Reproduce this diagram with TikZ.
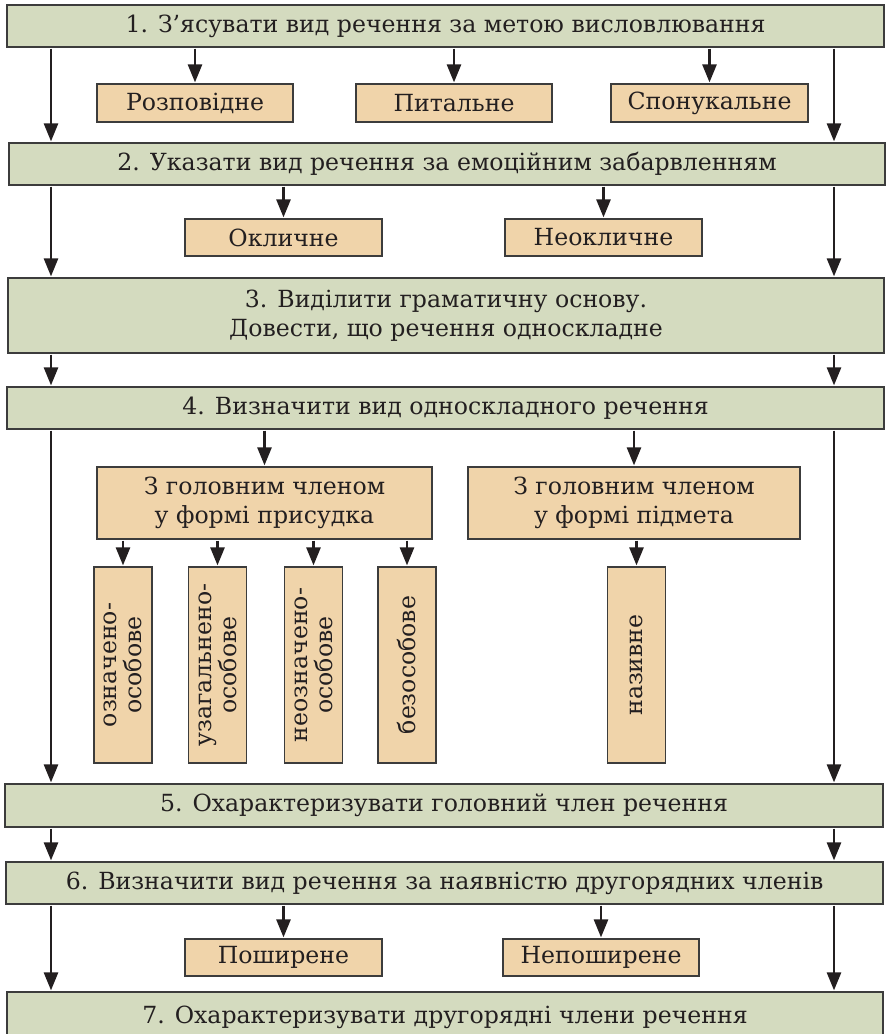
\documentclass[tikz,border=0pt]{standalone}
\usepackage{fontspec}
\setmainfont{DejaVu Serif}
\usetikzlibrary{arrows.meta}
\definecolor{gfill}{HTML}{D4DBBF}
\definecolor{ofill}{HTML}{F0D4AA}
\definecolor{edgec}{HTML}{3C3C3C}
\definecolor{ink}{HTML}{231F20}
\begin{document}
\begin{tikzpicture}[x=1pt,y=-1pt,
  gbox/.style={draw=edgec, line width=1.2pt, fill=gfill, inner sep=0pt, align=center, text=ink,
    font=\fontsize{23.6}{29}\selectfont},
  obox/.style={draw=edgec, line width=1.2pt, fill=ofill, inner sep=0pt, align=center, text=ink,
    font=\fontsize{23.6}{28.5}\selectfont},
  vbox/.style={obox, rotate=90, minimum width=196pt, minimum height=58pt,
    font=\fontsize{23.6}{25}\selectfont},
  arr/.style={draw=ink, line width=2.6pt, -{Triangle[length=18pt,width=14pt]},
    shorten <=1pt, shorten >=1pt},
]
\useasboundingbox (0,0) rectangle (886,1034);
\coordinate (L) at (51,0);
\coordinate (R) at (834,0);

% main steps
\node[gbox, minimum width=877pt, minimum height=42pt] (b1) at (445.5,26) {1. З’ясувати вид речення за метою висловлювання};
\node[gbox, minimum width=876pt, minimum height=42pt] (b2) at (447,164) {2. Указати вид речення за емоційним забарвленням};
\node[gbox, minimum width=876pt, minimum height=75pt] (b3) at (446,315.5) {3. Виділити граматичну основу.\\Довести, що речення односкладне};
\node[gbox, minimum width=877pt, minimum height=42pt] (b4) at (445.5,408) {4. Визначити вид односкладного речення};
\node[gbox, minimum width=878pt, minimum height=43pt] (b5) at (444,805.5) {5. Охарактеризувати головний член речення};
\node[gbox, minimum width=877pt, minimum height=42pt] (b6) at (444.5,883) {6. Визначити вид речення за наявністю другорядних членів};
\node[gbox, minimum width=876pt, minimum height=50pt] (b7) at (445,1017) {\raisebox{5pt}{7. Охарактеризувати другорядні члени речення}};

% step 1 children
\node[obox, minimum width=196pt, minimum height=38pt] (r1) at (195,103) {Розповідне};
\node[obox, minimum width=196pt, minimum height=38pt] (r2) at (454,103) {Питальне};
\node[obox, minimum width=197pt, minimum height=38pt] (r3) at (709.5,103) {Спонукальне};
% step 2 children
\node[obox, minimum width=197pt, minimum height=37pt] (e1) at (283.5,237.5) {Окличне};
\node[obox, minimum width=197pt, minimum height=37pt] (e2) at (603.5,237.5) {Неокличне};
% step 4 children
\node[obox, minimum width=335pt, minimum height=72pt] (pr) at (264.5,503) {З головним членом\\у формі присудка};
\node[obox, minimum width=332pt, minimum height=72pt] (pd) at (634,503) {З головним членом\\у формі підмета};
\node[vbox] (v1) at (123,665) {означено-\\особове};
\node[vbox] (v2) at (217.5,665) {узагальнено-\\особове};
\node[vbox] (v3) at (313.5,665) {неозначено-\\особове};
\node[vbox] (v4) at (407,665) {безособове};
\node[vbox] (v5) at (636.5,665) {називне};
% step 6 children
\node[obox, minimum width=197pt, minimum height=37pt] (s1) at (283.5,957.5) {Поширене};
\node[obox, minimum width=196pt, minimum height=37pt] (s2) at (601,957.5) {Непоширене};

% side arrows
\foreach \a/\b in {b1/b2,b2/b3,b3/b4,b4/b5,b5/b6,b6/b7}{
  \draw[arr] (\a.south -| L) -- (\b.north -| L);
  \draw[arr] (\a.south -| R) -- (\b.north -| R);
}
% child arrows
\foreach \p/\c in {b1/r1,b1/r2,b1/r3,b2/e1,b2/e2,b4/pr,b4/pd,b6/s1,b6/s2}{
  \draw[arr] (\p.south -| \c.north) -- (\c.north);
}
\foreach \c in {v1,v2,v3,v4}{
  \draw[arr] (pr.south -| \c.east) -- (\c.east);
}
\draw[arr] (pd.south -| v5.east) -- (v5.east);
\end{tikzpicture}
\end{document}
